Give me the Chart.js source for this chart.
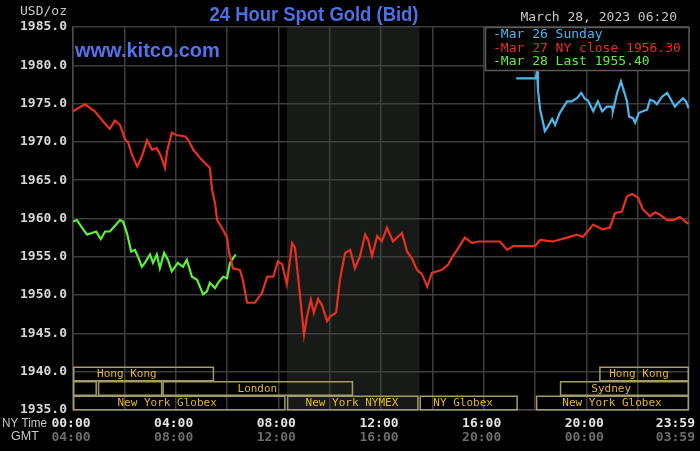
<!DOCTYPE html>
<html>
<head>
<meta charset="utf-8">
<script src="https://cdn.jsdelivr.net/npm/chart.js@4.4.0/dist/chart.umd.min.js"></script>
<style>
  html, body { margin: 0; padding: 0; background: #000; }
  canvas { display: block; }
</style>
</head>
<body>
<canvas id="goldChart" width="700" height="451"></canvas>
<script>
// times are minutes after midnight, NY time
const sundayTimes = [1036, 1082, 1085, 1087, 1092, 1099, 1103, 1110, 1120, 1127, 1138, 1155, 1166, 1178, 1188, 1197, 1204, 1216, 1227, 1237, 1248, 1260, 1262, 1272, 1281, 1288, 1295, 1300, 1309, 1314, 1323, 1332, 1342, 1349, 1358, 1365, 1377, 1389, 1396, 1407, 1415, 1426, 1433, 1439];
const sundayPrices = [1978.3, 1978.3, 1979.2, 1976.8, 1974.2, 1972.5, 1971.4, 1972.0, 1973.0, 1972.2, 1973.8, 1975.3, 1975.3, 1975.7, 1976.4, 1975.6, 1975.4, 1974.0, 1975.3, 1974.0, 1974.6, 1974.6, 1974.0, 1976.4, 1977.9, 1976.6, 1975.3, 1973.3, 1973.1, 1972.5, 1973.8, 1974.0, 1974.2, 1975.5, 1975.3, 1974.9, 1975.9, 1976.4, 1975.7, 1974.6, 1975.1, 1975.7, 1975.3, 1974.4];

const mondayTimes = [0, 28, 51, 70, 86, 98, 110, 122, 129, 138, 150, 161, 173, 185, 196, 206, 215, 220, 231, 241, 262, 269, 281, 297, 313, 320, 325, 332, 337, 351, 360, 365, 374, 390, 397, 407, 425, 442, 454, 468, 479, 489, 500, 512, 519, 531, 540, 547, 556, 563, 573, 582, 594, 601, 615, 624, 636, 648, 659, 671, 683, 690, 699, 711, 722, 734, 748, 769, 781, 792, 804, 816, 828, 839, 863, 877, 888, 898, 916, 933, 947, 998, 1015, 1029, 1080, 1092, 1122, 1155, 1178, 1192, 1216, 1237, 1255, 1267, 1283, 1295, 1307, 1321, 1332, 1349, 1361, 1372, 1389, 1403, 1419, 1431, 1439];
const mondayPrices = [1974.0, 1974.9, 1974.0, 1972.7, 1971.7, 1972.8, 1972.2, 1970.3, 1969.9, 1968.3, 1966.8, 1968.1, 1970.2, 1969.0, 1969.2, 1968.1, 1966.6, 1968.8, 1971.2, 1970.9, 1970.7, 1970.3, 1969.0, 1967.9, 1967.0, 1966.6, 1963.8, 1962.0, 1959.8, 1958.5, 1957.5, 1955.5, 1953.5, 1953.3, 1952.0, 1949.0, 1949.0, 1950.3, 1952.4, 1952.4, 1954.4, 1954.0, 1951.4, 1956.8, 1956.2, 1949.8, 1944.8, 1947.2, 1949.4, 1947.7, 1949.5, 1948.7, 1946.6, 1947.2, 1947.7, 1952.0, 1955.5, 1955.9, 1953.5, 1955.1, 1957.9, 1957.2, 1955.1, 1957.7, 1957.0, 1958.8, 1957.0, 1958.1, 1955.7, 1954.8, 1953.3, 1952.7, 1951.1, 1952.9, 1953.3, 1954.0, 1955.1, 1955.9, 1957.5, 1956.8, 1957.0, 1957.0, 1955.9, 1956.4, 1956.4, 1957.2, 1957.0, 1957.5, 1957.9, 1957.6, 1959.2, 1958.6, 1958.8, 1960.7, 1960.9, 1962.9, 1963.2, 1962.7, 1961.2, 1960.3, 1960.8, 1960.5, 1959.8, 1959.8, 1960.2, 1959.6, 1959.3];

const tuesdayTimes = [0, 9, 21, 33, 44, 54, 65, 75, 86, 94, 110, 117, 126, 136, 145, 152, 161, 168, 180, 187, 196, 203, 213, 222, 231, 245, 257, 266, 278, 290, 304, 313, 320, 332, 339, 351, 360, 367, 374, 380];
const tuesdayPrices = [1959.6, 1959.8, 1958.8, 1957.9, 1958.1, 1958.3, 1957.3, 1958.3, 1958.3, 1958.8, 1959.8, 1959.6, 1958.1, 1955.7, 1955.9, 1955.0, 1953.7, 1954.2, 1955.3, 1954.2, 1955.3, 1953.5, 1955.5, 1954.6, 1953.1, 1954.2, 1953.7, 1954.6, 1952.4, 1952.0, 1950.1, 1950.5, 1951.6, 1950.9, 1951.6, 1952.4, 1952.2, 1954.2, 1954.8, 1955.3];

const seriesLabels = ['Mar 26 Sunday', 'Mar 27 NY close 1956.30', 'Mar 28 Last 1955.40'];
const seriesColors = ['#4cb6ea', '#e8301e', '#5ef03c'];

const nyTickTimes = [0, 240, 480, 720, 960, 1200, 1439];
const nyTickLabels = ['00:00', '04:00', '08:00', '12:00', '16:00', '20:00', '23:59'];
const gmtTickLabels = ['04:00', '08:00', '12:00', '16:00', '20:00', '00:00', '03:59'];

const nymexPit = [500, 810];

// trading sessions shown along the bottom, row 0 is the top row
const sessionNames = ['Hong Kong', 'Hong Kong', '', '', 'London', 'Sydney', 'New York Globex', 'New York NYMEX', 'NY Globex', 'New York Globex'];
const sessionRows = [0, 0, 1, 1, 1, 1, 2, 2, 2, 2];
const sessionStarts = [-75, 1230, -60, 58, 209, 1138, -60, 500, 810, 1082];
const sessionEnds = [330, 1500, 56, 209, 655, 1500, 497, 808, 1040, 1500];
const sessionLabelAt = [126, 1323, 0, 0, 431, 1258, 220, 652, 912, 1260];

const titleText = '24 Hour Spot Gold (Bid)';
const siteText = 'www.kitco.com';
const unitText = 'USD/oz';
const stampText = 'March 28, 2023 06:20';

const MONO = '"DejaVu Sans Mono", monospace';

function toPoints(times, prices) {
    return times.map((t, i) => ({ x: t, y: prices[i] }));
}

const backdrop = {
    id: 'backdrop',
    beforeDraw(chart) {
        const ctx = chart.ctx;
        const area = chart.chartArea;
        const x = chart.scales.x;
        ctx.save();
        ctx.fillStyle = '#000';
        ctx.fillRect(0, 0, chart.width, chart.height);
        // NYMEX pit hours
        const x1 = x.getPixelForValue(nymexPit[0]);
        const x2 = x.getPixelForValue(nymexPit[1]);
        ctx.fillStyle = '#181a18';
        ctx.fillRect(x1, area.top, x2 - x1, area.bottom - area.top);
        ctx.restore();
    }
};

const sessions = {
    id: 'sessions',
    afterDatasetsDraw(chart) {
        const ctx = chart.ctx;
        const area = chart.chartArea;
        const x = chart.scales.x;
        const rowH = 14.5;
        ctx.save();
        ctx.font = '11px ' + MONO;
        ctx.textAlign = 'center';
        ctx.textBaseline = 'middle';
        ctx.lineWidth = 1.5;
        sessionNames.forEach((name, i) => {
            const top = area.bottom - (3 - sessionRows[i]) * rowH;
            const x1 = Math.max(x.getPixelForValue(sessionStarts[i]), area.left);
            const x2 = Math.min(x.getPixelForValue(sessionEnds[i]), area.right);
            ctx.strokeStyle = '#a39c68';
            ctx.strokeRect(x1 + 0.75, top + 0.75, x2 - x1 - 1.5, rowH - 1);
            if (name) {
                ctx.fillStyle = '#e0b634';
                ctx.fillText(name, x.getPixelForValue(sessionLabelAt[i]), top + rowH / 2 + 0.5);
            }
        });
        ctx.restore();
    }
};

const labels = {
    id: 'labels',
    afterDraw(chart) {
        const ctx = chart.ctx;
        const area = chart.chartArea;
        const x = chart.scales.x;
        ctx.save();
        ctx.textBaseline = 'middle';

        // title and site name
        ctx.textAlign = 'center';
        ctx.fillStyle = '#4f6fe6';
        ctx.font = 'bold 21px "Liberation Sans", Arial, sans-serif';
        ctx.fillText(titleText, 314, 15, 209);
        ctx.textAlign = 'left';
        ctx.fillStyle = '#5473ec';
        ctx.font = 'bold 20px "Liberation Sans", Arial, sans-serif';
        ctx.fillText(siteText, 75, 51, 148);

        ctx.font = '13px ' + MONO;
        ctx.fillStyle = '#c8c8c8';
        ctx.textAlign = 'right';
        ctx.fillText(unitText, 67, 12);
        ctx.fillText(stampText, 677, 18);

        // legend box
        ctx.fillStyle = '#000';
        ctx.fillRect(485, area.top, area.right - 485, 43);
        ctx.strokeStyle = '#5a5a5a';
        ctx.lineWidth = 1.5;
        ctx.strokeRect(485.5, area.top + 0.5, area.right - 485.5, 43);
        ctx.textAlign = 'left';
        seriesLabels.forEach((label, i) => {
            ctx.fillStyle = seriesColors[i];
            ctx.fillText('-' + label, 493, 35 + i * 13.5);
        });

        // time axis
        ctx.font = '12.5px "Liberation Sans", Arial, sans-serif';
        ctx.fillStyle = '#c8c8c8';
        ctx.fillText('NY Time', 2, area.bottom + 14, 45);
        ctx.fillText('GMT', 11, area.bottom + 27);
        ctx.font = 'bold 13px ' + MONO;
        ctx.textAlign = 'center';
        nyTickTimes.forEach((t, i) => {
            const w = ctx.measureText(nyTickLabels[i]).width;
            const px = Math.min(x.getPixelForValue(t) - 2, chart.width - 5 - w / 2);
            ctx.fillStyle = '#e4e4e4';
            ctx.fillText(nyTickLabels[i], px, area.bottom + 14);
            ctx.fillStyle = '#6c6c6c';
            ctx.fillText(gmtTickLabels[i], px, area.bottom + 28);
        });
        ctx.restore();
    }
};

new Chart(document.getElementById('goldChart'), {
    type: 'line',
    data: {
        datasets: [
            { label: seriesLabels[0], data: toPoints(sundayTimes, sundayPrices), borderColor: seriesColors[0] },
            { label: seriesLabels[1], data: toPoints(mondayTimes, mondayPrices), borderColor: seriesColors[1] },
            { label: seriesLabels[2], data: toPoints(tuesdayTimes, tuesdayPrices), borderColor: seriesColors[2] }
        ]
    },
    options: {
        responsive: false,
        animation: false,
        devicePixelRatio: 1,
        layout: { padding: { top: 27, right: 11, bottom: 41, left: 0 } },
        elements: {
            point: { radius: 0 },
            line: { borderWidth: 2.2, tension: 0 }
        },
        plugins: {
            legend: { display: false },
            tooltip: { enabled: false }
        },
        scales: {
            x: {
                type: 'linear',
                min: 0,
                max: 1440,
                ticks: { display: false, stepSize: 120 },
                grid: { color: '#3e3e3e', lineWidth: 1.5, drawTicks: false },
                border: { color: '#4a4a4a', width: 1.5 },
                afterFit(scale) { scale.height = 0; }
            },
            y: {
                min: 1935,
                max: 1985,
                ticks: {
                    stepSize: 5,
                    padding: 6,
                    color: '#d8d8d8',
                    font: { family: 'DejaVu Sans Mono', size: 13, weight: 'bold' },
                    callback: v => v.toFixed(1)
                },
                grid: { color: '#3e3e3e', lineWidth: 1.5, drawTicks: false },
                border: { color: '#4a4a4a', width: 1.5 },
                afterFit(scale) { scale.width = 73; }
            }
        }
    },
    plugins: [backdrop, sessions, labels]
});
</script>
</body>
</html>
